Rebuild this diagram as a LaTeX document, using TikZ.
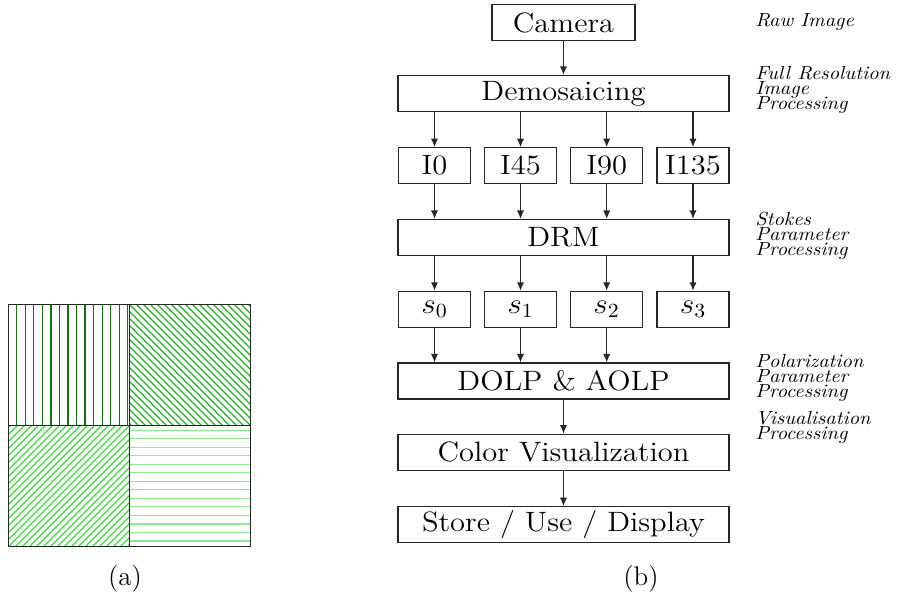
\documentclass[tikz,border=0pt]{standalone}
\usetikzlibrary{arrows.meta}
\definecolor{hTL}{RGB}{20,110,20}
\definecolor{hTR}{RGB}{35,175,35}
\definecolor{hBL}{RGB}{60,215,60}
\definecolor{hBR}{RGB}{140,235,140}
\newcommand{\lblstack}[1]{\scalebox{1.07}[1]{\vtop{\baselineskip=7.4pt\lineskiplimit=-100pt\lineskip=0pt #1}}}
\newcommand{\bt}[1]{\scalebox{1.09}[1]{#1}}
\begin{document}
\begin{tikzpicture}[x=0.5pt,y=-0.5pt,
  box/.style={draw=black!85, line width=0.6pt, inner sep=0pt, minimum height=18pt,
    font=\fontsize{14}{16}\selectfont},
  widebox/.style={box, minimum width=165.5pt},
  smallbox/.style={box, minimum width=36pt},
  camerabox/.style={box, minimum width=71.5pt},
  arr/.style={draw=black!85, line width=0.55pt, -{Latex[length=4.2pt,width=3.6pt]}},
  sidelabel/.style={anchor=base west, inner sep=0pt, font=\fontsize{9.5}{7.4}\selectfont\itshape},
  caption/.style={inner sep=0pt, font=\fontsize{13.5}{15}\selectfont},
  hatch/.style={line width=0.6pt}]
\useasboundingbox (0,0) rectangle (899,592);

% ---- (a) polarizer mosaic ----
\begin{scope}
  \clip (8.3,304.3) rectangle (129.3,425.7);
  \foreach \k in {1,...,14} \draw[hatch, hTL] (8.3+8.53*\k,300) -- (8.3+8.53*\k,430);
\end{scope}
\begin{scope}
  \clip (129.3,304.3) rectangle (250.7,425.7);
  \foreach \k in {-20,...,20} \draw[hatch, hTR] (129.3+7*\k,304.3) -- (129.3+7*\k+130,434.3);
\end{scope}
\begin{scope}
  \clip (8.3,425.7) rectangle (129.3,546.7);
  \foreach \k in {-20,...,20} \draw[hatch, hBL] (8.3+7*\k,546.7) -- (8.3+7*\k+130,416.7);
\end{scope}
\begin{scope}
  \clip (129.3,425.7) rectangle (250.7,546.7);
  \foreach \k in {0,...,14} \draw[hatch, hBR] (125,541-8.53*\k) -- (255,541-8.53*\k);
\end{scope}
\draw[black!85, line width=0.7pt] (8.3,304.3) rectangle (250.7,546.7);
\draw[black!85, line width=0.7pt] (129.3,304.3) -- (129.3,546.7);
\draw[black!85, line width=0.7pt] (8.3,425.7) -- (250.7,425.7);
\node[caption] (capa) at (125,579) {(a)};

% ---- (b) processing chain ----
\node[camerabox] (cam) at (563.5,22.5) {\bt{Camera}};
\node[widebox] (demo) at (563.5,93.5) {\bt{Demosaicing}};
\node[smallbox] (i0) at (434.5,165.7) {\bt{I0}};
\node[smallbox] (i45) at (520.5,165.7) {\bt{I45}};
\node[smallbox] (i90) at (606.7,165.7) {\bt{I90}};
\node[smallbox] (i135) at (693,165.7) {\bt{I135}};
\node[widebox] (drm) at (563.5,237.5) {\bt{DRM}};
\node[smallbox] (s0) at (434.5,309.3) {\bt{$s_0$}};
\node[smallbox] (s1) at (520.5,309.3) {\bt{$s_1$}};
\node[smallbox] (s2) at (606.7,309.3) {\bt{$s_2$}};
\node[smallbox] (s3) at (693,309.3) {\bt{$s_3$}};
\node[widebox] (dolp) at (563.5,381) {\bt{DOLP \& AOLP}};
\node[widebox] (color) at (563.5,452.2) {\bt{Color Visualization}};
\node[widebox] (store) at (563.5,524.7) {\bt{Store / Use / Display}};
\node[caption] (capb) at (641,579) {(b)};

\draw[arr] (cam.south) -- (demo.north);
\foreach \n in {i0,i45,i90,i135} {
  \draw[arr] (\n |- demo.south) -- (\n.north);
  \draw[arr] (\n.south) -- (\n |- drm.north);
}
\foreach \n in {s0,s1,s2,s3} \draw[arr] (\n |- drm.south) -- (\n.north);
\foreach \n in {s0,s1,s2} \draw[arr] (\n.south) -- (\n |- dolp.north);
\draw[arr] (dolp.south) -- (color.north);
\draw[arr] (color.south) -- (store.north);

% ---- side labels ----
\node[sidelabel] (lraw) at (755,27) {\lblstack{\hbox{Raw Image}}};
\node[sidelabel] (lfull) at (755,80) {\lblstack{\hbox{Full Resolution}\hbox{Image}\hbox{Processing}}};
\node[sidelabel] (lstokes) at (755,226) {\lblstack{\hbox{Stokes}\hbox{Parameter}\hbox{Processing}}};
\node[sidelabel] (lpol) at (755,368) {\lblstack{\hbox{Polarization}\hbox{Parameter}\hbox{Processing}}};
\node[sidelabel] (lvis) at (755,425) {\lblstack{\hbox{Visualisation}\hbox{Processing}}};
\end{tikzpicture}
\end{document}
